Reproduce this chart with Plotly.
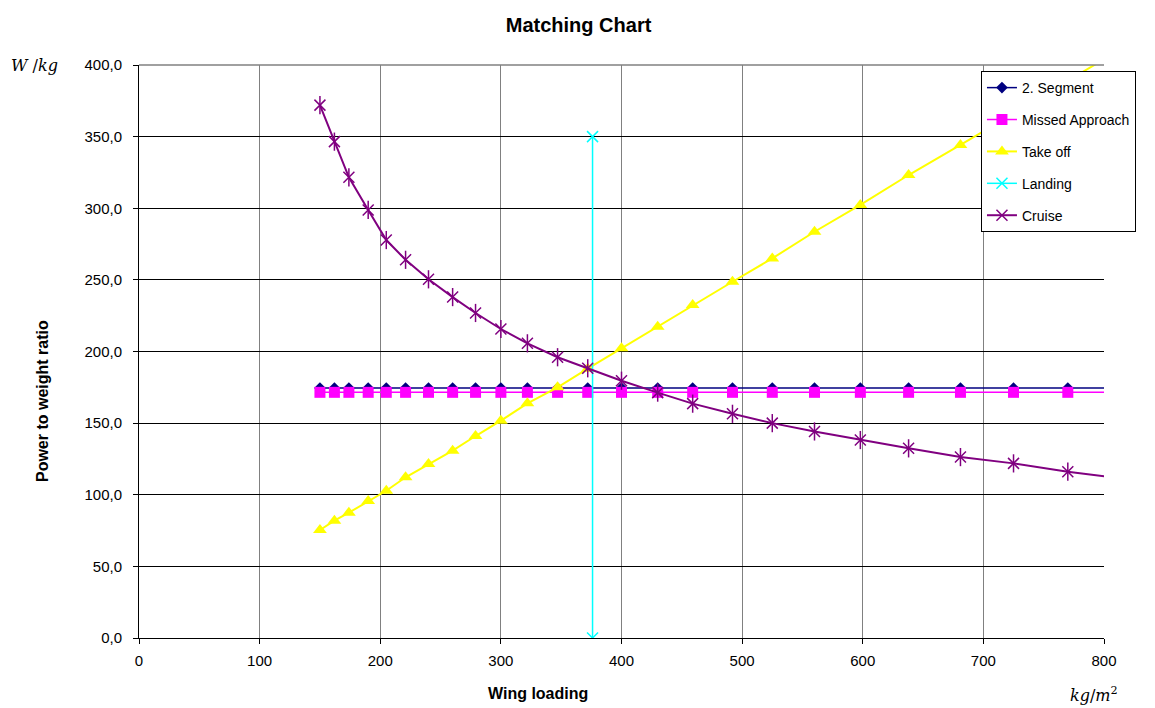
import plotly.graph_objects as go

# ---- data ----
wing_loading = [150, 162, 174, 190, 205, 221, 240, 260, 279, 300, 322, 347, 372,
                400, 430, 459, 492, 525, 560, 598, 638, 681, 725, 770, 818]
segment2 = [174.5] * 25
missed_approach = [171.5] * 25
take_off = [75.4, 81.9, 87.5, 95.6, 102.8, 112.2, 121.5, 130.8, 141.0, 151.7, 163.8,
            175.0, 188.0, 202.2, 217.3, 232.5, 248.7, 265.0, 283.6, 302.3, 323.2,
            344.2, 366.0, 389.0, 413.0]
cruise = [372.0, 346.5, 321.6, 298.8, 277.8, 264.0, 250.4, 238.0, 226.9, 215.7, 205.7,
          196.0, 188.3, 179.6, 171.3, 163.6, 156.5, 150.0, 144.2, 138.2, 132.4, 126.3,
          121.9, 116.1, 111.0]
landing_x = [376, 376]
landing_y = [0, 350]

y_ticks = [0, 50, 100, 150, 200, 250, 300, 350, 400]
x_ticks = [0, 100, 200, 300, 400, 500, 600, 700, 800]

FONT = "Liberation Sans, Arial, sans-serif"
SERIF = "DejaVu Serif, Liberation Serif, serif"

fig = go.Figure()

fig.add_trace(go.Scatter(
    x=wing_loading, y=segment2, name="2. Segment", mode="lines+markers",
    line=dict(color="#000080", width=1.5),
    marker=dict(symbol="diamond", size=9, color="#000080"),
    legendgroup="a"))
fig.add_trace(go.Scatter(
    x=wing_loading, y=missed_approach, name="Missed Approach", mode="lines+markers",
    line=dict(color="#FF00FF", width=1.5),
    marker=dict(symbol="square", size=11, color="#FF00FF"),
    legendgroup="b"))
fig.add_trace(go.Scatter(
    x=wing_loading, y=take_off, name="Take off", mode="lines+markers",
    line=dict(color="#FFFF00", width=2),
    marker=dict(symbol="triangle-up", size=12, color="#FFFF00"),
    legendgroup="c"))
fig.add_trace(go.Scatter(
    x=landing_x, y=landing_y, name="Landing", mode="lines+markers",
    line=dict(color="#00FFFF", width=1.5),
    marker=dict(symbol="x-thin-open", size=11, color="#00FFFF",
                line=dict(color="#00FFFF", width=1.5)),
    legendgroup="d"))
fig.add_trace(go.Scatter(
    x=wing_loading, y=cruise, name="Cruise", mode="lines+markers",
    line=dict(color="#800080", width=2),
    marker=dict(symbol="x-thin-open", size=11, color="#800080",
                line=dict(color="#800080", width=1.5)),
    legendgroup="e"))
# vertical stroke of the star marker
fig.add_trace(go.Scatter(
    x=wing_loading, y=cruise, name="Cruise", mode="markers", showlegend=False,
    marker=dict(symbol="line-ns-open", size=13, color="#800080",
                line=dict(color="#800080", width=1.5)),
    legendgroup="e", hoverinfo="skip"))

# the page body adds an 8 px offset; margins compensate so the plot area
# sits at x 139..1104, y 65..638 of the window
fig.update_layout(
    width=1155, height=708,
    margin=dict(l=131, r=59, t=57, b=78),
    paper_bgcolor="white", plot_bgcolor="white",
    separators=",.",
    font=dict(family=FONT, color="black"),
    title=dict(text="<b>Matching Chart</b>", x=0.494, xanchor="center",
               y=0.976, yanchor="middle", font=dict(size=20, family=FONT)),
    showlegend=True,
    legend=dict(x=0.8725, y=0.9895, xanchor="left", yanchor="top",
                bgcolor="white", bordercolor="black", borderwidth=1,
                font=dict(size=14, family=FONT), tracegroupgap=10.7,
                itemclick=False),
)

fig.update_xaxes(range=[0, 800], tickvals=x_ticks, ticktext=[str(v) for v in x_ticks],
                 showgrid=True, gridcolor="#808080", gridwidth=1,
                 showline=True, linecolor="black", linewidth=1,
                 ticks="outside", ticklen=5, tickcolor="black",
                 tickfont=dict(size=15, family=FONT), ticklabelstandoff=4,
                 zeroline=False)
fig.update_yaxes(range=[0, 400], tickvals=y_ticks, tickformat=".1f",
                 showgrid=True, gridcolor="black", gridwidth=1,
                 showline=True, linecolor="black", linewidth=1,
                 ticks="outside", ticklen=5, tickcolor="black",
                 tickfont=dict(size=15, family=FONT), ticklabelstandoff=8,
                 zeroline=False)

# grey frame line on top of plot area
fig.add_shape(type="line", xref="paper", yref="paper", x0=0, x1=1, y0=1, y1=1,
              line=dict(color="#808080", width=1.5), layer="above")

fig.add_annotation(text="<b>Power to weight ratio</b>", xref="paper", yref="paper",
                   x=-0.1005, y=0.4136, xanchor="center", yanchor="middle",
                   textangle=-90, showarrow=False,
                   font=dict(size=16, family=FONT))
fig.add_annotation(text="<b>Wing loading</b>", xref="paper", yref="paper",
                   x=0.4135, y=-0.096, xanchor="center", yanchor="middle",
                   showarrow=False, font=dict(size=16, family=FONT))
fig.add_annotation(text="<i>W</i> /<i>kg</i>", xref="paper", yref="paper",
                   x=-0.1078, y=1.0, xanchor="center", yanchor="middle",
                   showarrow=False, font=dict(size=16, family=SERIF))
fig.add_annotation(text="<i>kg</i>/<i>m</i><sup>2</sup>", xref="paper", yref="paper",
                   x=0.99, y=-0.098, xanchor="center", yanchor="middle",
                   showarrow=False, font=dict(size=16, family=SERIF))

fig.write_html("out.html")
